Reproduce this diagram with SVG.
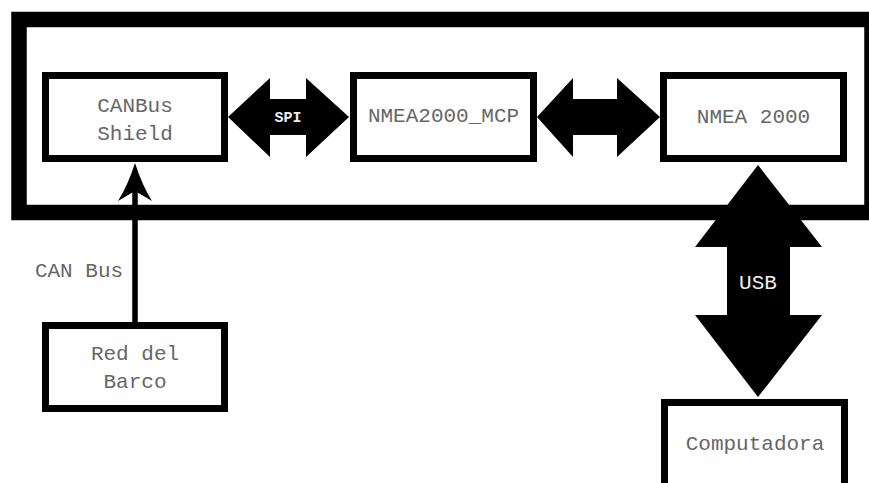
<svg xmlns="http://www.w3.org/2000/svg" width="869" height="483" viewBox="0 0 869 483">
<style>
.box{fill:#fff;stroke:#000;stroke-width:7}
.lbl{font-family:"Liberation Mono","DejaVu Sans Mono",monospace;font-size:21px;fill:#666;text-anchor:middle}
.wl{font-family:"Liberation Mono","DejaVu Sans Mono",monospace;fill:#eee;text-anchor:middle}
</style>
<rect width="869" height="483" fill="#fff"/>
<g id="frame"><rect x="19" y="19.5" width="853" height="193" fill="none" stroke="#000" stroke-width="15.5"/></g>
<g id="connectors">
<path d="M228,117 L270,78 L270,99 L306,99 L306,78 L349,117 L306,157 L306,135 L270,135 L270,157 Z" fill="#000"/>
<text class="wl" x="288" y="122" font-size="15" font-weight="bold">SPI</text>
<path d="M537,117 L573,78 L573,99 L617,99 L617,78 L660,117 L617,157 L617,135 L573,135 L573,157 Z" fill="#000"/>
<path d="M758,165 L822,247 L790,247 L790,315 L822,315 L758,397 L695,315 L727,315 L727,247 L695,247 Z" fill="#000"/>
<text class="wl" x="758" y="289" font-size="21">USB</text>
<line x1="135" y1="190" x2="135" y2="322" stroke="#000" stroke-width="5.5"/>
<path d="M135,163 Q142,185 152,201 L135,191 L118,201 Q128,185 135,163 Z" fill="#000"/>
<text class="lbl" x="79" y="277">CAN Bus</text>
</g>
<g id="canbus"><rect class="box" x="45.5" y="75.5" width="179" height="83"/><text class="lbl" x="135" y="112">CANBus</text><text class="lbl" x="135" y="140">Shield</text></g>
<g id="mcp"><rect class="box" x="353.5" y="75.5" width="180" height="83"/><text class="lbl" x="443.5" y="122">NMEA2000_MCP</text></g>
<g id="nmea"><rect class="box" x="663.5" y="75.5" width="180" height="83"/><text class="lbl" x="753.5" y="123">NMEA 2000</text></g>
<g id="red"><rect class="box" x="45.5" y="325.5" width="179" height="83"/><text class="lbl" x="135" y="360">Red del</text><text class="lbl" x="135" y="388">Barco</text></g>
<g id="comp"><rect class="box" x="664.5" y="402.5" width="180" height="85"/><text class="lbl" x="755" y="450">Computadora</text></g>
</svg>
